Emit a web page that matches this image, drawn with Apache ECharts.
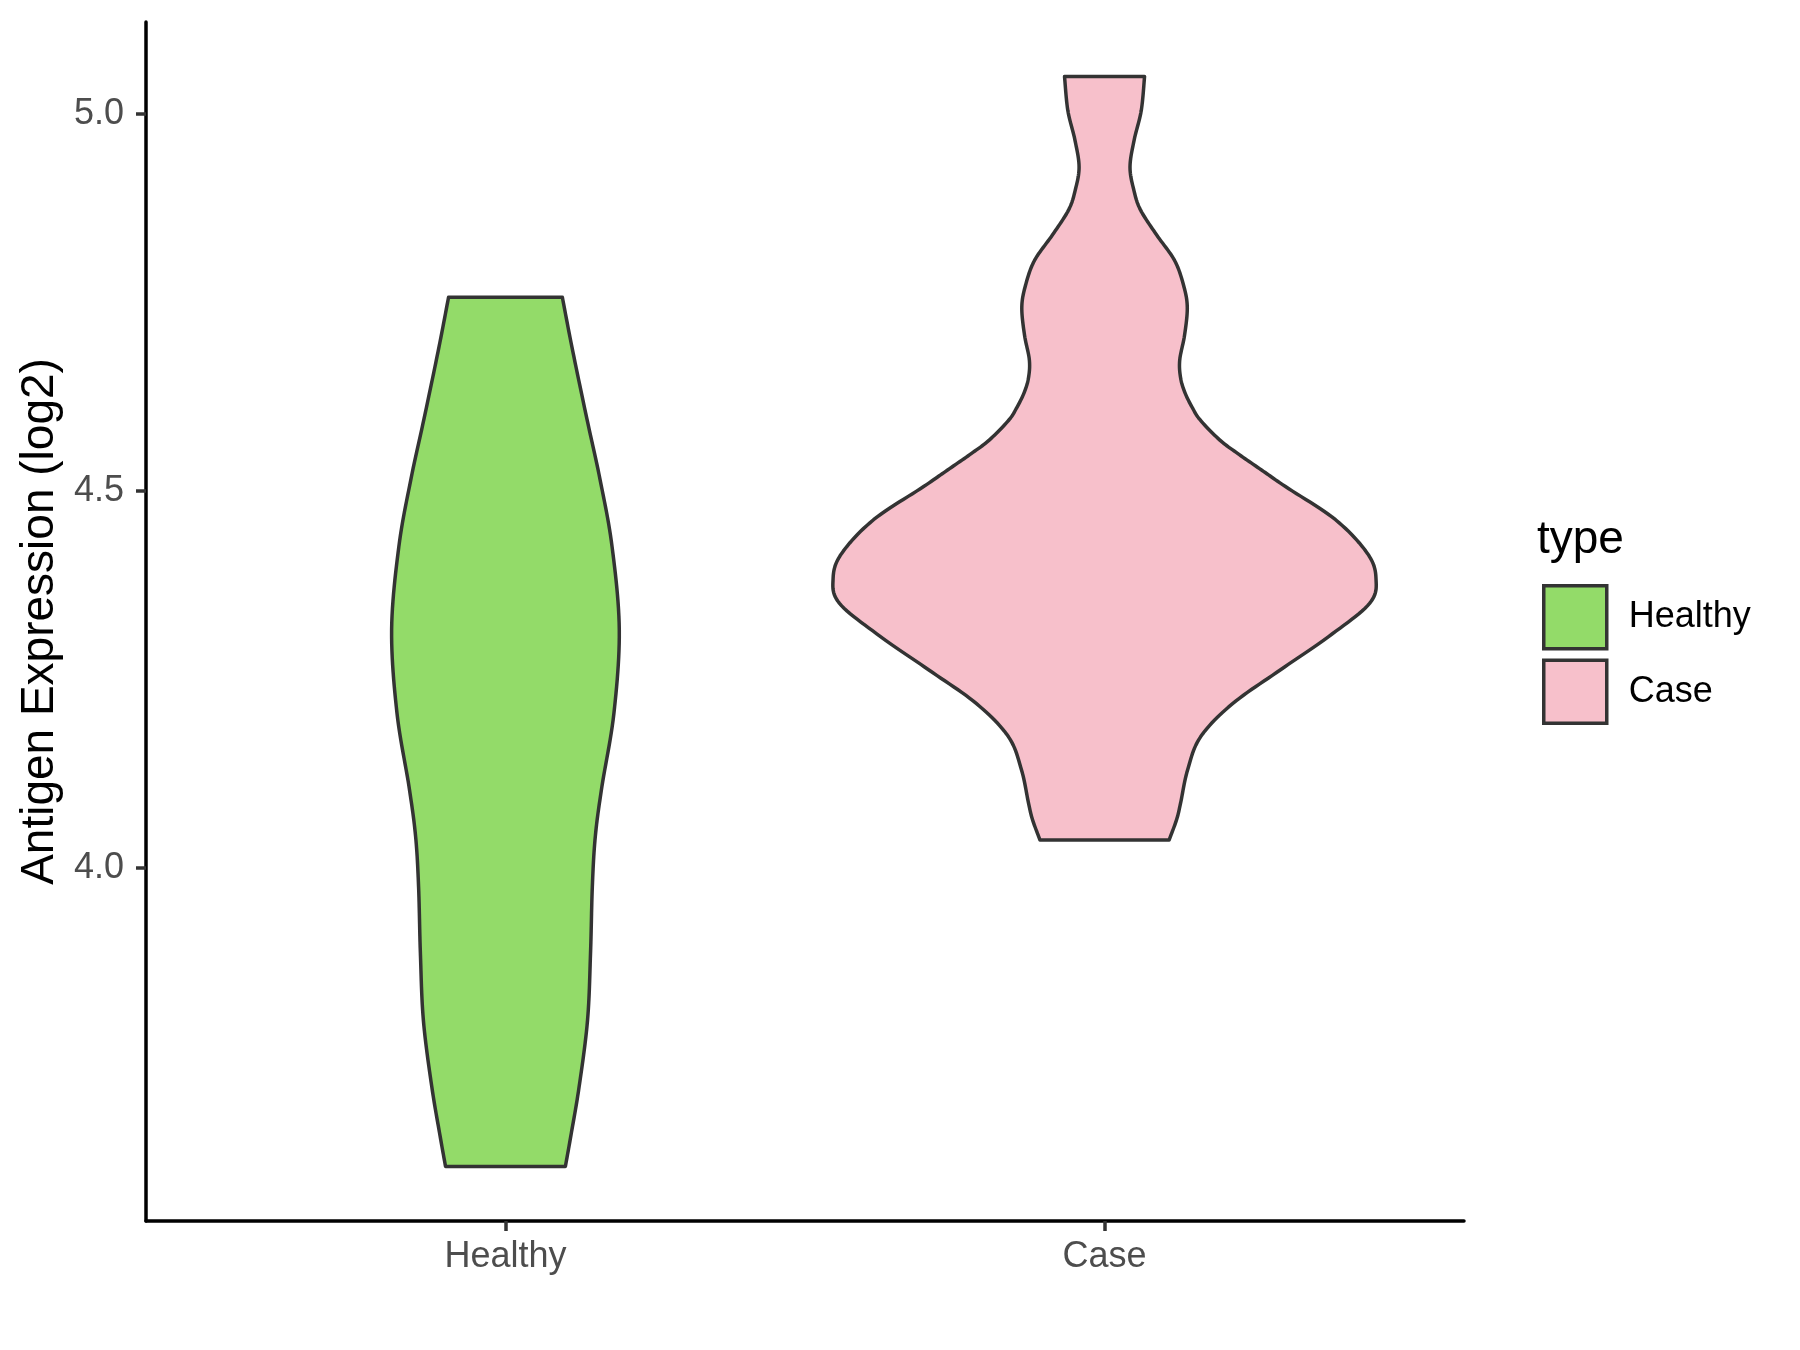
<!DOCTYPE html>
<html>
<head>
<meta charset="utf-8">
<script src="https://cdn.jsdelivr.net/npm/echarts@6/dist/echarts.min.js"></script>
<style>
  html, body { margin: 0; padding: 0; background: #ffffff; }
  #chart { width: 1800px; height: 1350px; }
</style>
</head>
<body>
<div id="chart"></div>
<script>
// ---- data ----
const categories = ['Healthy', 'Case'];
const yTicks = [4.0, 4.5, 5.0];
// violin outlines: expression level (log2) and half-width (in category units), top to bottom
const healthyY = [4.757, 4.691, 4.603, 4.515, 4.426, 4.316, 4.205, 4.108, 4.042, 3.975, 3.887, 3.798, 3.710, 3.644, 3.604];
const healthyW = [0.095, 0.111, 0.134, 0.158, 0.178, 0.190, 0.181, 0.161, 0.150, 0.145, 0.142, 0.137, 0.123, 0.109, 0.100];
const caseY = [5.050, 5.005, 4.966, 4.930, 4.899, 4.873, 4.840, 4.806, 4.773, 4.744, 4.707, 4.674, 4.650, 4.630, 4.610, 4.594, 4.568, 4.550, 4.528, 4.506, 4.462, 4.417, 4.384, 4.351, 4.307, 4.263, 4.218, 4.174, 4.130, 4.086, 4.064, 4.037];
const caseW = [0.0668, 0.0613, 0.0495, 0.0425, 0.0490, 0.0600, 0.0868, 0.1169, 0.1319, 0.1381, 0.1336, 0.1255, 0.1270, 0.1345, 0.1470, 0.1600, 0.1920, 0.2220, 0.2620, 0.3020, 0.3856, 0.4391, 0.4531, 0.4424, 0.374, 0.2938, 0.2137, 0.1603, 0.1386, 0.1269, 0.1202, 0.1077];

const colors = { Healthy: '#93DB69', Case: '#F7C0CB' };
const violins = [
  { name: 'Healthy', pos: 1, ys: healthyY, ws: healthyW },
  { name: 'Case', pos: 2, ys: caseY, ws: caseW }
];

const FONT = "'Liberation Sans', Arial, Helvetica, sans-serif";

function catmull(pts, steps) {
  if (pts.length < 3) return pts.slice();
  const out = [];
  for (let i = 0; i < pts.length - 1; i++) {
    const p0 = pts[Math.max(i - 1, 0)], p1 = pts[i], p2 = pts[i + 1], p3 = pts[Math.min(i + 2, pts.length - 1)];
    for (let s = 0; s < steps; s++) {
      const t = s / steps, t2 = t * t, t3 = t2 * t;
      const f = (a, b, c, d) => 0.5 * ((2 * b) + (-a + c) * t + (2 * a - 5 * b + 4 * c - d) * t2 + (-a + 3 * b - 3 * c + d) * t3);
      out.push([f(p0[0], p1[0], p2[0], p3[0]), f(p0[1], p1[1], p2[1], p3[1])]);
    }
  }
  out.push(pts[pts.length - 1]);
  return out;
}

function renderViolin(params, api) {
  const v = violins[params.seriesIndex];
  const right = v.ys.map((y, i) => api.coord([v.pos + v.ws[i], y]));
  const left = v.ys.map((y, i) => api.coord([v.pos - v.ws[i], y]));
  const r = catmull(right, 12);
  const l = catmull(left, 12).reverse();
  return {
    type: 'polygon',
    shape: { points: r.concat(l) },
    style: { fill: colors[v.name], stroke: '#333333', lineWidth: 3.5, lineJoin: 'round' }
  };
}

const chart = echarts.init(document.getElementById('chart'), null, { renderer: 'canvas' });
chart.setOption({
  backgroundColor: '#ffffff',
  animation: false,
  textStyle: { fontFamily: FONT },
  title: {
    text: 'type',
    left: 1532, top: 512,
    textStyle: { fontFamily: FONT, fontSize: 46, fontWeight: 'normal', color: '#000000' }
  },
  legend: {
    orient: 'vertical',
    left: 1537, top: 579,
    icon: 'rect',
    itemWidth: 63, itemHeight: 63,
    itemGap: 8,
    data: categories,
    itemStyle: { borderColor: '#333333', borderWidth: 3.5 },
    textStyle: { fontFamily: FONT, fontSize: 36, color: '#000000', padding: [0, 0, 0, 17] },
    selectedMode: false
  },
  grid: { left: 146, right: 336, top: 22, bottom: 129, containLabel: false },
  xAxis: {
    type: 'value',
    min: 0.4, max: 2.6,
    splitLine: { show: false },
    axisLine: { show: true, onZero: false, lineStyle: { color: '#000000', width: 3.5 } },
    axisTick: { show: true, customValues: [1, 2], length: 10, lineStyle: { color: '#333333', width: 3.5 } },
    axisLabel: {
      customValues: [1, 2], margin: 18,
      formatter: v => categories[Math.round(v) - 1],
      fontFamily: FONT, fontSize: 36, color: '#4D4D4D'
    }
  },
  yAxis: {
    type: 'value',
    min: 3.5317, max: 5.1223,
    name: 'Antigen Expression (log2)',
    nameLocation: 'middle',
    nameRotate: 90,
    nameGap: 80,
    nameTextStyle: { fontFamily: FONT, fontSize: 46, color: '#000000' },
    splitLine: { show: false },
    axisLine: { show: true, onZero: false, lineStyle: { color: '#000000', width: 3.5 } },
    axisTick: { show: true, customValues: yTicks, length: 10, lineStyle: { color: '#333333', width: 3.5 } },
    axisLabel: {
      customValues: yTicks, margin: 22,
      formatter: v => v.toFixed(1),
      fontFamily: FONT, fontSize: 36, color: '#4D4D4D'
    }
  },
  series: violins.map(v => ({
    type: 'custom',
    name: v.name,
    renderItem: renderViolin,
    itemStyle: { color: colors[v.name], borderColor: '#333333', borderWidth: 3.5 },
    data: [[v.pos, v.ys[0]]],
    clip: false
  }))
});
</script>
</body>
</html>
